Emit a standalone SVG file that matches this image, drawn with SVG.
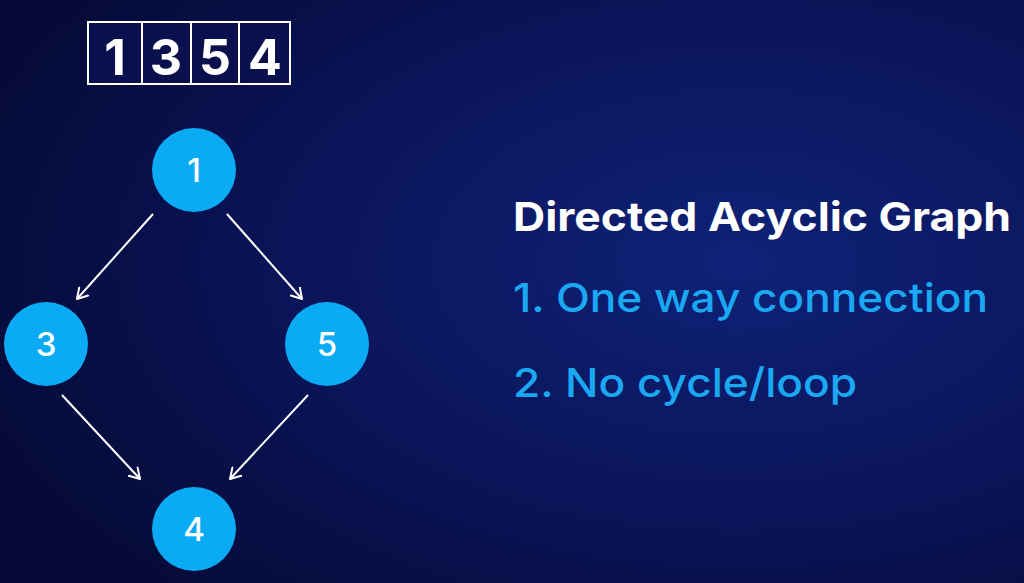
<svg xmlns="http://www.w3.org/2000/svg" width="1024" height="583" viewBox="0 0 1024 583">
<defs>
<radialGradient id="bg" cx="0.72" cy="0.45" r="0.8">
<stop offset="0" stop-color="#0f2278"/>
<stop offset="0.55" stop-color="#0a1458"/>
<stop offset="1" stop-color="#050a36"/>
</radialGradient>
<marker id="arr" markerWidth="14" markerHeight="14" refX="11" refY="7" orient="auto" markerUnits="userSpaceOnUse">
<path d="M1,1 L11,7 L1,13" fill="none" stroke="#ffffff" stroke-width="2" stroke-linecap="round" stroke-linejoin="round"/>
</marker>
<style>
.box{fill:#0a0f4e;stroke:#ffffff;stroke-width:2}
.bd{font-family:Inter,"Liberation Sans",sans-serif;font-weight:700;font-size:50px;fill:#ffffff;text-anchor:middle}
.node{fill:#0aaaf5}
.nl{font-family:Inter,"Liberation Sans",sans-serif;font-weight:500;font-size:33px;fill:#ffffff;text-anchor:middle}
.edge{stroke:#ffffff;stroke-width:2;fill:none;marker-end:url(#arr)}
.title{font-family:Inter,"Liberation Sans",sans-serif;font-weight:700;font-size:40px;fill:#ffffff}
.item{font-family:Inter,"Liberation Sans",sans-serif;font-weight:500;font-size:40px;fill:#1aa8f2}
</style>
</defs>
<rect width="1024" height="583" fill="url(#bg)"/>
<g id="array">
<rect class="box" x="88" y="22" width="54" height="62"/>
<rect class="box" x="142" y="22" width="49" height="62"/>
<rect class="box" x="191" y="22" width="48" height="62"/>
<rect class="box" x="239" y="22" width="51" height="62"/>
<text class="bd" x="115" y="75">1</text>
<text class="bd" x="166" y="75">3</text>
<text class="bd" x="215" y="75">5</text>
<text class="bd" x="265" y="75">4</text>
</g>
<g id="connectors">
<line class="edge" x1="153" y1="214" x2="77" y2="299"/>
<line class="edge" x1="227" y1="214" x2="302" y2="299"/>
<line class="edge" x1="62" y1="395" x2="140" y2="479"/>
<line class="edge" x1="308" y1="395" x2="230" y2="479"/>
</g>
<g id="node1"><circle class="node" cx="194" cy="170" r="42"/><text class="nl" x="194" y="182">1</text></g>
<g id="node3"><circle class="node" cx="46" cy="344" r="42"/><text class="nl" x="46" y="356">3</text></g>
<g id="node5"><circle class="node" cx="327" cy="344" r="42"/><text class="nl" x="327" y="356">5</text></g>
<g id="node4"><circle class="node" cx="194" cy="529" r="42"/><text class="nl" x="194" y="541">4</text></g>
<g id="legend">
<text class="title" x="513" y="231" textLength="498" lengthAdjust="spacingAndGlyphs">Directed Acyclic Graph</text>
<text class="item" x="513" y="312" textLength="475" lengthAdjust="spacingAndGlyphs">1. One way connection</text>
<text class="item" x="513" y="397" textLength="344" lengthAdjust="spacingAndGlyphs">2. No cycle/loop</text>
</g>
</svg>
